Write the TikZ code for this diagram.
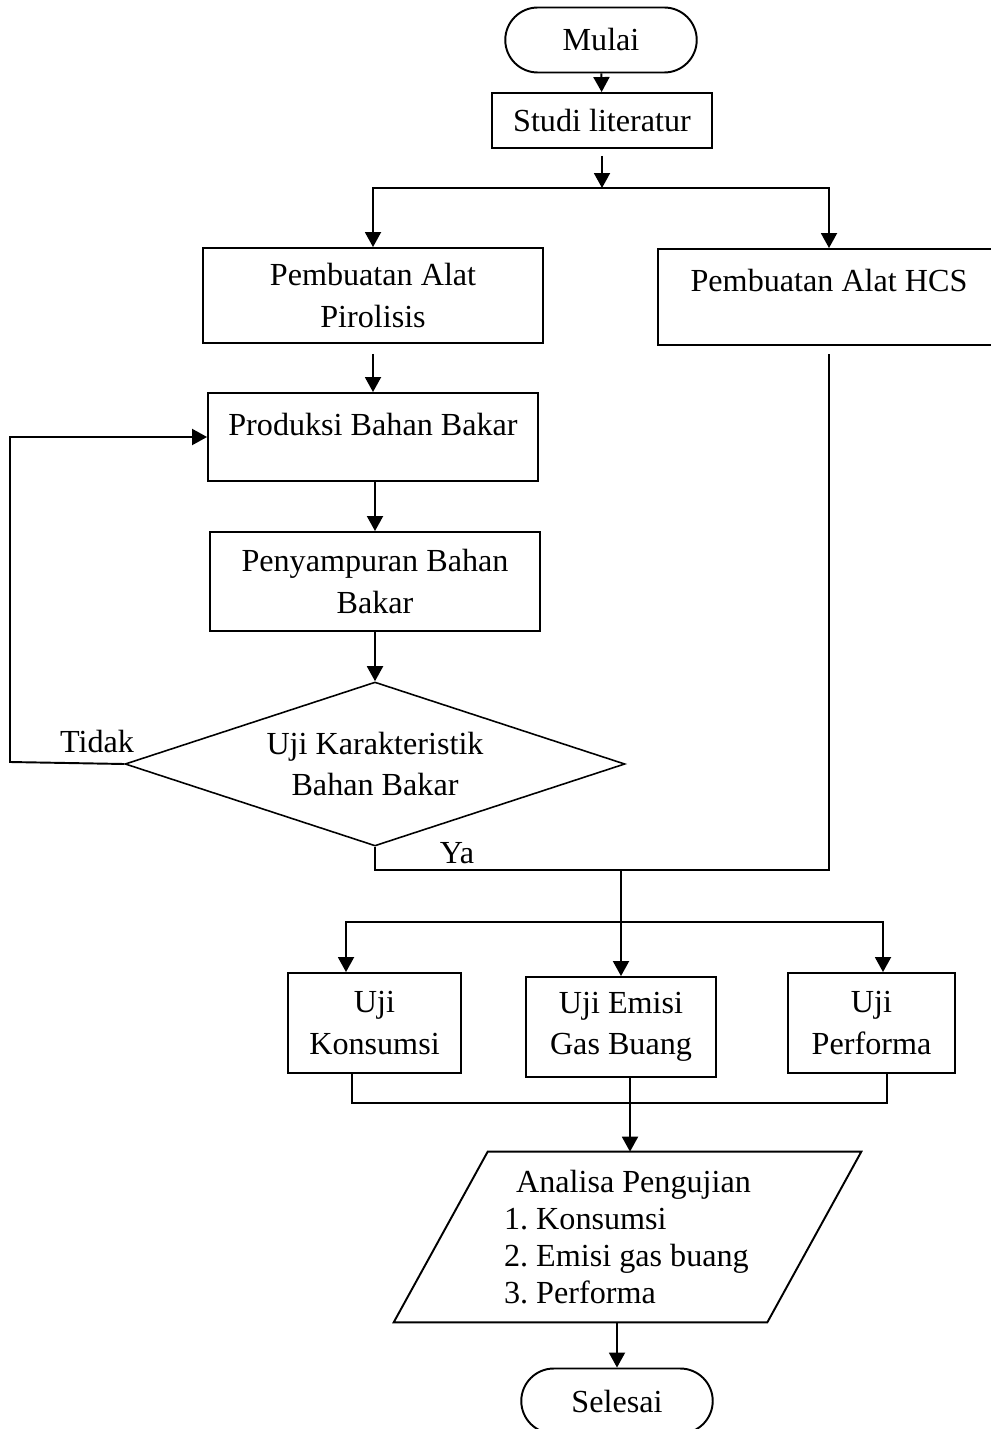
\documentclass[tikz,border=0pt]{standalone}
\usepackage{fontspec}
\setmainfont{Liberation Serif}
\usepackage{tikz}
\usetikzlibrary{arrows.meta,calc,shapes.geometric}

\begin{document}
\frenchspacing
\begin{tikzpicture}[x=0.02cm,y=-0.02cm,
    every node/.style={font=\fontsize{18.3}{23.5}\selectfont},
    proses/.style={draw, line width=1.1pt, align=center, inner sep=2pt},
    terminal/.style={draw, line width=1.1pt, rounded corners=0.65cm, minimum width=3.83cm, minimum height=1.3cm},
    keputusan/.style={draw, diamond, aspect=3.05, line width=0.9pt, align=center, inner sep=0pt, minimum width=10cm, minimum height=3.28cm},
    garis/.style={line width=1.1pt},
    arr/.style={garis, -{Triangle[length=0.3cm,width=0.32cm]}}]
    \useasboundingbox (0,0) rectangle (990,1429);

    % Mulai - studi literatur
    \node[terminal] (mulai) at (601,40) {Mulai};
    \node[proses, minimum width=4.4cm, minimum height=1.1cm] (studi) at (602,120.5) {Studi literatur};
    \draw[arr] (mulai) -- (studi);

    % pembuatan alat
    \node[proses, minimum width=6.8cm, minimum height=1.9cm] (pirolisis) at (373,295.5) {Pembuatan Alat\\Pirolisis};
    \node[proses, minimum width=6.84cm, minimum height=1.92cm, text depth=0.68cm] (hcs) at (829,297) {Pembuatan Alat HCS};
    \coordinate (cabang) at (602,188);
    \draw[arr, shorten <=0.14cm] (studi) -- (cabang);
    \draw[arr] (cabang) -| (pirolisis.north);
    \draw[arr] (cabang) -| (hcs.north);

    % bahan bakar
    \node[proses, minimum width=6.6cm, minimum height=1.76cm, text depth=0.52cm] (produksi) at (373,437) {Produksi Bahan Bakar};
    \node[proses, minimum width=6.6cm, minimum height=1.98cm] (campur) at (375,581.5) {Penyampuran Bahan\\Bakar};
    \node[keputusan] (uji) at (375,764) {Uji Karakteristik\\Bahan Bakar};
    \draw[arr, shorten <=0.2cm] (pirolisis) -- (produksi);
    \draw[arr] (produksi.south -| campur) -- (campur);
    \draw[arr] (campur) -- (uji);

    % Tidak / Ya
    \coordinate (balik) at (10,762);
    \draw[arr] (uji.west) -- (balik) |- (produksi.west);
    \node (tidak) at (97,741) {Tidak};
    \coordinate (gabung) at (621,870);
    \draw[garis, shorten >=0.16cm] (uji.south) -- (uji.south |- gabung) -- (hcs.south |- gabung) -- (hcs.south);
    \node (ya) at (457,853) {Ya};

    % pengujian
    \node[proses, minimum width=3.46cm, minimum height=2cm] (konsumsi) at (374.5,1023) {Uji\\Konsumsi};
    \node[proses, minimum width=3.8cm, minimum height=2cm] (emisi) at (621,1027) {Uji Emisi\\Gas Buang};
    \node[proses, minimum width=3.34cm, minimum height=2cm] (performa) at (871.5,1023) {Uji\\Performa};
    \coordinate (bagi) at (621,922);
    \draw[arr] (gabung) -- (emisi);
    \draw[arr] (bagi) -| ([xshift=-0.57cm]konsumsi.north);
    \draw[arr] (bagi) -| ([xshift=0.23cm]performa.north);

    % analisa
    \node[align=left, minimum width=9.34cm, minimum height=3.4cm, font=\fontsize{18.3}{21}\selectfont] (analisa) at (627.5,1237)
        {\hspace*{0.24cm}Analisa Pengujian\\1. Konsumsi\\2. Emisi gas buang\\3. Performa};
    \draw[garis] ([xshift=1.88cm]analisa.north west) -- (analisa.north east)
        -- ([xshift=-1.88cm]analisa.south east) -- (analisa.south west) -- cycle;
    \coordinate (kumpul) at (630,1103);
    \draw[garis] ([xshift=-0.45cm]konsumsi.south) |- (kumpul) -| ([xshift=0.31cm]performa.south);
    \draw[arr] (kumpul |- emisi.south) -- (kumpul |- analisa.north);

    % Selesai
    \node[terminal] (selesai) at (617,1401) {Selesai};
    \draw[arr] (selesai.north |- analisa.south) -- (selesai.north);
\end{tikzpicture}
\end{document}
